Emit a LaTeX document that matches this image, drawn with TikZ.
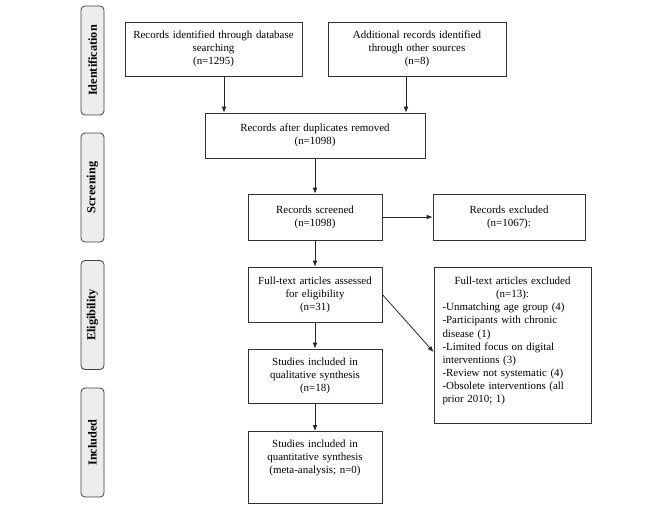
\documentclass[tikz,border=0pt]{standalone}
\usepackage{fontspec}
\setmainfont{Liberation Serif}
\usetikzlibrary{arrows.meta,positioning,calc}
\tikzset{%
	flowbox/.style 2 args = {draw=black!80, line width=0.6pt, rectangle, minimum width=#1*0.75pt, minimum height=#2*0.75pt, text width=#1*0.75pt-4pt, align=center, inner xsep=2pt, inner ysep=3pt, font=\fontsize{8.2}{9.8}\selectfont},
	phase/.style    = {draw=black!75, fill=black!7, line width=0.6pt, rectangle, rounded corners=3pt, rotate=90, minimum width=81.75pt, minimum height=17.25pt, inner sep=0pt, font=\fontsize{9.2}{9.5}\selectfont\bfseries},
	arrow/.style    = {line width=0.6pt, black!85, -{Latex[length=4.5pt,width=3.6pt]}},
}
\begin{document}
\begin{tikzpicture}[x=0.75pt,y=-0.75pt]
	\useasboundingbox (0,0) rectangle (666,515);
	% phases
	\node[phase] (ident) at (92.5,60.5) {Identification};
	\node[phase] (screen) at (92.5,187.5) {Screening};
	\node[phase] (elig) at (92.5,315) {Eligibility};
	\node[phase] (incl) at (92.5,442.5) {Included};
	% boxes
	\node[flowbox={177}{54}] (dbsearch) at (213.5,49) {Records identified through database\\searching\\(n=1295)};
	\node[flowbox={178}{54}] (other) at (417,49) {Additional records identified\\through other sources\\(n=8)};
	\node[flowbox={220}{45}] (dupl) at (315,135.5) {Records after duplicates removed\\(n=1098)};
	\node[flowbox={134}{46}] (screened) at (315,217) {Records screened\\(n=1098)};
	\node[flowbox={152}{46}] (excluded) at (509,217) {Records excluded\\(n=1067):};
	\node[flowbox={134}{55}] (fulltext) at (315,294.5) {Full-text articles assessed\\for eligibility\\(n=31)};
	\node[flowbox={134}{54}] (qual) at (315,376) {Studies included in\\qualitative synthesis\\(n=18)};
	\node[flowbox={134}{72}, anchor=north, text height=8pt, text depth=38pt, inner ysep=4pt] (quant) at (315,431) {Studies included in\\quantitative synthesis\\(meta-analysis; n=0)};
	\node[flowbox={157}{156}, anchor=north, align=left, text height=9pt, text depth=100pt, inner ysep=4pt, inner xsep=6pt, text width=105pt] (fullexcl) at (512.5,267)
		{{\centering Full-text articles excluded\\(n=13):\par}
		-Unmatching age group (4)\\
		-Participants with chronic\\
		disease (1)\\
		-Limited focus on digital\\
		interventions (3)\\
		-Review not systematic (4)\\
		-Obsolete interventions (all\\
		prior 2010; 1)};
	% connectors
	\coordinate (in1) at ([xshift=-68.25pt]dupl.north);
	\coordinate (in2) at ([xshift=68.25pt]dupl.north);
	\draw[arrow] (in1 |- dbsearch.south) -- (in1);
	\draw[arrow] (in2 |- other.south) -- (in2);
	\draw[arrow] (dupl) -- (screened);
	\draw[arrow] (screened) -- (excluded);
	\draw[arrow] (screened) -- (fulltext);
	\draw[arrow] (fulltext) -- (qual);
	\draw[arrow] (qual) -- (quant);
	\draw[arrow] (fulltext.east) -- ([yshift=-5pt]fullexcl.west);
\end{tikzpicture}
\end{document}
